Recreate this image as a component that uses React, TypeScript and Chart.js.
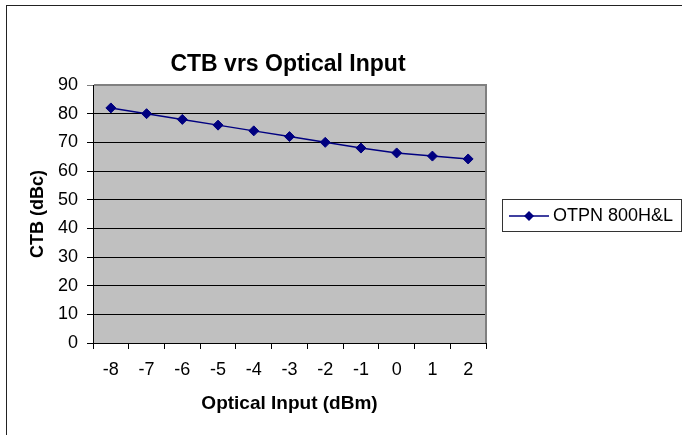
import React, { useEffect, useRef } from "react";
import { Chart, registerables } from "chart.js";

Chart.register(...registerables);

const categories = ["-8", "-7", "-6", "-5", "-4", "-3", "-2", "-1", "0", "1", "2"];
const ctbValues = [82, 80, 78, 76, 74, 72, 70, 68, 66.3, 65.2, 64.2];
const seriesName = "OTPN 800H&L";
const chartTitle = "CTB vrs Optical Input";
const xTitle = "Optical Input (dBm)";
const yTitle = "CTB (dBc)";
const yMin = 0;
const yMax = 90;
const yStep = 10;

const FONT = "'Liberation Sans', Arial, sans-serif";
const NAVY = "#000080";

const decorPlugin = {
  id: "decor",
  beforeDraw(chart: any) {
    const { ctx, chartArea } = chart;
    ctx.save();
    ctx.fillStyle = "#ffffff";
    ctx.fillRect(0, 0, chart.width, chart.height);
    // outer border
    ctx.strokeStyle = "#222222";
    ctx.lineWidth = 1;
    ctx.strokeRect(6.5, 5.5, 700, 500);
    // plot background
    ctx.fillStyle = "#C0C0C0";
    ctx.fillRect(chartArea.left, chartArea.top, chartArea.right - chartArea.left, chartArea.bottom - chartArea.top);
    ctx.restore();
  },
  afterDraw(chart: any) {
    const { ctx, chartArea } = chart;
    ctx.save();
    // plot border top/right
    ctx.strokeStyle = "#808080";
    ctx.lineWidth = 2;
    ctx.beginPath();
    ctx.moveTo(chartArea.left + 1, chartArea.top);
    ctx.lineTo(chartArea.right, chartArea.top);
    ctx.lineTo(chartArea.right, chartArea.bottom);
    ctx.stroke();
    // title
    ctx.fillStyle = "#000000";
    ctx.font = `bold 23px ${FONT}`;
    ctx.textAlign = "center";
    ctx.textBaseline = "middle";
    ctx.fillText(chartTitle, 288, 65);
    // legend
    ctx.strokeStyle = "#333333";
    ctx.lineWidth = 1;
    ctx.strokeRect(502.5, 199.5, 179, 32);
    ctx.strokeStyle = NAVY;
    ctx.lineWidth = 1.5;
    ctx.beginPath();
    ctx.moveTo(509, 216);
    ctx.lineTo(549, 216);
    ctx.stroke();
    ctx.fillStyle = NAVY;
    ctx.beginPath();
    ctx.moveTo(529, 211);
    ctx.lineTo(534, 216);
    ctx.lineTo(529, 221);
    ctx.lineTo(524, 216);
    ctx.closePath();
    ctx.fill();
    ctx.fillStyle = "#000000";
    ctx.font = `18px ${FONT}`;
    ctx.textAlign = "left";
    ctx.textBaseline = "middle";
    ctx.fillText(seriesName, 553, 216);
    ctx.restore();
  },
};

export default function App() {
  const canvasRef = useRef<HTMLCanvasElement | null>(null);

  useEffect(() => {
    const canvas = canvasRef.current;
    if (!canvas) return;
    const chart = new Chart(canvas, {
      type: "line",
      data: {
        labels: categories,
        datasets: [
          {
            label: seriesName,
            data: ctbValues,
            borderColor: NAVY,
            backgroundColor: NAVY,
            borderWidth: 1.5,
            pointStyle: "rectRot",
            pointRadius: 5,
            pointBackgroundColor: NAVY,
            pointBorderColor: NAVY,
            pointBorderWidth: 1,
            tension: 0,
            fill: false,
          },
        ],
      },
      options: {
        responsive: false,
        animation: false,
        devicePixelRatio: 1,
        layout: { padding: { left: 27, top: 85, right: 196, bottom: 20 } },
        plugins: {
          legend: { display: false },
          title: { display: false },
          tooltip: { enabled: false },
        },
        scales: {
          x: {
            type: "category",
            offset: true,
            afterFit: (scale: any) => {
              scale.height = 72;
            },
            grid: {
              offset: true,
              drawOnChartArea: false,
              drawTicks: true,
              tickLength: 6,
              color: "#000000",
            },
            border: { display: true, color: "#000000", width: 1 },
            ticks: {
              color: "#000000",
              font: { family: FONT, size: 18 },
              padding: 10,
              maxRotation: 0,
              autoSkip: false,
            },
            title: {
              display: true,
              text: xTitle,
              color: "#000000",
              font: { family: FONT, size: 19, weight: "bold" },
              padding: 0,
            },
          },
          y: {
            min: yMin,
            max: yMax,
            afterFit: (scale: any) => {
              scale.width = 66;
            },
            grid: {
              color: (c: any) => (c.tick && c.tick.value === yMax ? "#808080" : "#000000"),
              lineWidth: 1,
              tickLength: 6,
              drawTicks: true,
            },
            border: { display: true, color: "#000000", width: 1 },
            ticks: {
              stepSize: yStep,
              color: "#000000",
              font: { family: FONT, size: 18 },
              padding: 9,
            },
            title: {
              display: true,
              text: yTitle,
              color: "#000000",
              font: { family: FONT, size: 18, weight: "bold" },
              padding: 0,
            },
          },
        },
      },
      plugins: [decorPlugin],
    });
    return () => chart.destroy();
  }, []);

  return (
    <div style={{ position: "fixed", left: 0, top: 0, width: 682, height: 435, background: "#fff" }}>
      <canvas ref={canvasRef} width={682} height={435} style={{ display: "block" }} />
    </div>
  );
}
